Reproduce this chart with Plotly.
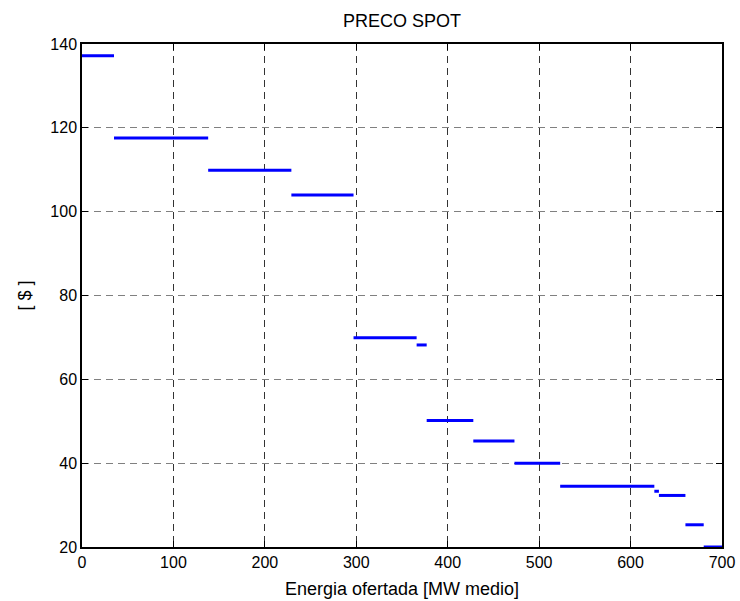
import plotly.graph_objects as go

# Data
x_start = [0, 35, 138, 229, 297, 366, 377, 428, 473, 523, 626, 631, 660, 680]
x_end = [35, 138, 229, 297, 366, 377, 428, 473, 523, 626, 631, 660, 680, 700]
price = [137.2, 117.6, 109.9, 104.0, 69.9, 68.2, 50.2, 45.3, 40.0, 34.5, 33.3, 32.3, 25.3, 20.0]

x_ticks = [0, 100, 200, 300, 400, 500, 600, 700]
y_ticks = [20, 40, 60, 80, 100, 120, 140]

xs, ys = [], []
for a, b, p in zip(x_start, x_end, price):
    xs += [a, b, None]
    ys += [p, p, None]

fig = go.Figure()
fig.add_trace(go.Scatter(x=xs, y=ys, mode="lines",
                         line=dict(color="#0000ff", width=3),
                         showlegend=False, hoverinfo="skip"))

font_family = "Liberation Sans, Arial, sans-serif"

fig.update_layout(
    width=740, height=601,
    margin=dict(l=82, r=18, t=44, b=54, autoexpand=False),
    paper_bgcolor="white", plot_bgcolor="white",
    font=dict(family=font_family, color="black", size=16),
    title=dict(text="PRECO SPOT", x=402/740, xanchor="center",
               y=1 - 21/601, yanchor="middle", yref="container",
               font=dict(size=18, color="black")),
    xaxis=dict(range=[0, 700], tickvals=x_ticks, ticks="inside", ticklen=6,
               tickcolor="black", showline=True, linecolor="black", linewidth=1.5,
               mirror="allticks", showgrid=True, gridcolor="#333333", gridwidth=1,
               griddash="7px,5px", zeroline=False, layer="below traces",
               automargin=False, tickfont=dict(size=16),
               title=dict(text="Energia ofertada [MW medio]", font=dict(size=18), standoff=12)),
    yaxis=dict(range=[20, 140], tickvals=y_ticks, ticks="inside", ticklen=6,
               tickcolor="black", showline=True, linecolor="black", linewidth=1.5,
               mirror="allticks", showgrid=True, gridcolor="#808080", gridwidth=1,
               griddash="7px,5px", zeroline=False, layer="below traces",
               automargin=False, tickfont=dict(size=16),
               title=dict(text="[ $ ]", font=dict(size=18), standoff=14)),
)

fig.write_html("out.html")
